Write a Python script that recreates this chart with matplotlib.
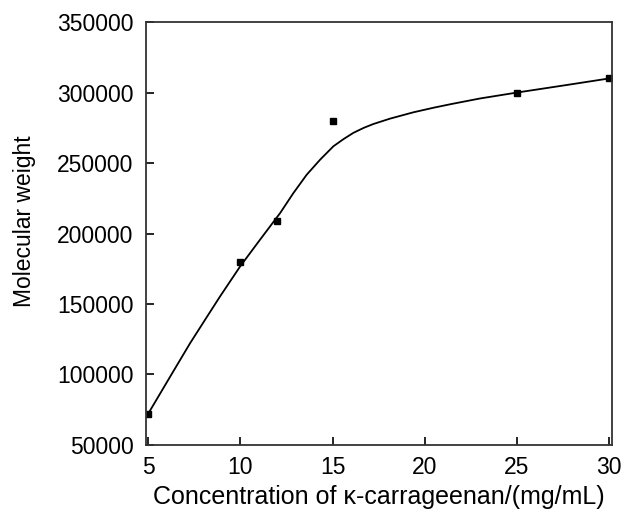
import matplotlib
matplotlib.use("Agg")
import matplotlib.pyplot as plt

plt.rcParams['font.family'] = ['Liberation Sans', 'DejaVu Sans']

# measured data points
conc = [5, 10, 12, 15, 25, 30]
mw = [72000, 180000, 209000, 280000, 300000, 310000]

# fitted curve
curve_x = [5, 6.2, 7.28, 8.1, 8.9, 9.99, 11.07, 12.16, 12.88, 13.6, 14.33, 15.05,
           15.6, 16.13, 16.7, 17.22, 18.12, 19.39, 20.5, 21.5, 23.0, 25.0, 27.52, 30.0]
curve_y = [72000, 98500, 122200, 139000, 155300, 176600, 195600, 214500, 228700,
           241700, 252400, 261900, 267000, 271400, 275000, 277700, 281500, 286000,
           289300, 292000, 295800, 300000, 305000, 310000]

xticks = [5, 10, 15, 20, 25, 30]
yticks = [50000, 100000, 150000, 200000, 250000, 300000, 350000]

fig = plt.figure(figsize=(6.24, 5.13), dpi=100)
ax = fig.add_axes([0.234, 0.1326, 0.747, 0.8244])

ax.plot(curve_x, curve_y, color='black', lw=1.3, solid_joinstyle='round')
ax.plot(conc, mw, 's', color='black', ms=4.3)

ax.set_xlim(4.89, 30.16)
ax.set_ylim(50000, 350000)
ax.set_xticks(xticks)
ax.set_yticks(yticks)
ax.set_xticklabels([str(v) for v in xticks])
ax.set_yticklabels([str(v) for v in yticks])
ax.tick_params(direction='in', length=6, width=1.2, labelsize=16.5,
               top=False, right=False)
ax.tick_params(axis='x', pad=8)
ax.tick_params(axis='y', pad=9)
for s in ax.spines.values():
    s.set_linewidth(1.3)
    s.set_color('#333333')

ax.set_xlabel('Concentration of κ-carrageenan/(mg/mL)', fontsize=18)
ax.set_ylabel('Molecular weight', fontsize=16.5)
ax.xaxis.set_label_coords(0.5, -0.095)
ax.yaxis.set_label_coords(-0.236, 0.53)

fig.savefig('out.png', dpi=100)
